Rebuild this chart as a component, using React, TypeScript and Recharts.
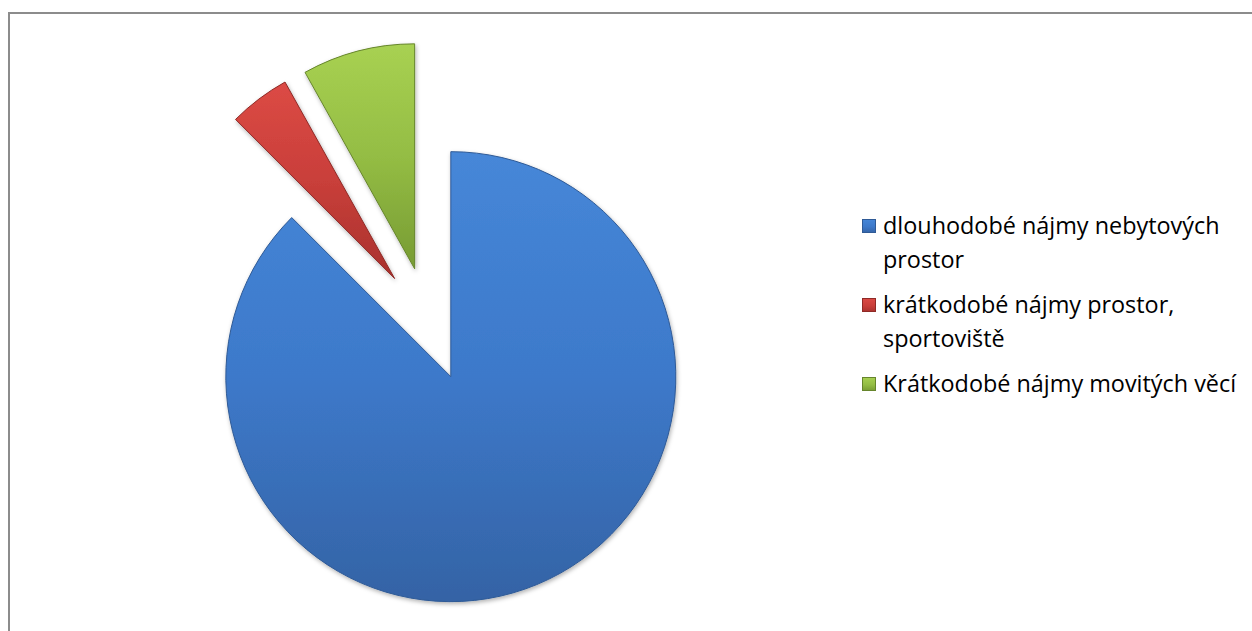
import React from 'react';
import { PieChart, Pie, Cell, Legend } from 'recharts';

// share of revenue by type of rental (%)
const categories = [
  'dlouhodobé nájmy nebytových prostor',
  'krátkodobé nájmy prostor, sportoviště',
  'Krátkodobé nájmy movitých věcí',
];
const shares = [87.5, 4.4, 8.1];

const GRADIENTS = [
  { id: 'g-blue', top: '#4687d8', mid: '#3d79ca', bottom: '#3463a5', edge: '#2f5a96' },
  { id: 'g-red', top: '#dc4a45', mid: '#c93f3a', bottom: '#a8312d', edge: '#8f2a26' },
  { id: 'g-green', top: '#a8d152', mid: '#94bd44', bottom: '#779b33', edge: '#66852c' },
];

const CX = 429;
const CY = 324;
const RADIUS = 225;
const EXPLODE = 57;

const data = categories.map((name, i) => ({ name, value: shares[i] }));
const total = shares.reduce((a, b) => a + b, 0);

// offset of each exploded slice, along its mid angle
function explodeOffset(i: number) {
  const before = shares.slice(0, i).reduce((a, b) => a + b, 0);
  const mid = 90 - (360 * (before + shares[i] / 2)) / total;
  const rad = (mid * Math.PI) / 180;
  return { dx: EXPLODE * Math.cos(rad), dy: -EXPLODE * Math.sin(rad) };
}

function LegendBox() {
  return (
    <div style={{ fontFamily: '"Open Sans", sans-serif', fontSize: 23.4, color: '#000' }}>
      {categories.map((c, i) => (
        <div
          key={c}
          style={{ display: 'flex', alignItems: 'flex-start', marginBottom: 12, lineHeight: '33.5px' }}
        >
          <span
            style={{
              flex: '0 0 auto',
              width: 14,
              height: 14,
              marginTop: 10,
              marginRight: 7,
              background: `linear-gradient(${GRADIENTS[i].top}, ${GRADIENTS[i].mid} 55%, ${GRADIENTS[i].bottom})`,
              boxShadow: `inset 0 0 0 1px ${GRADIENTS[i].edge}`,
            }}
          />
          <span style={{ width: 362 }}>{c}</span>
        </div>
      ))}
    </div>
  );
}

export default function App() {
  return (
    <div style={{ position: 'fixed', inset: 0, overflow: 'hidden', background: '#fff' }}>
      <div
        style={{
          position: 'absolute',
          left: 8,
          top: 12,
          width: 1300,
          height: 700,
          border: '2px solid #8c8c8c',
          boxSizing: 'border-box',
        }}
      />
      <div style={{ position: 'absolute', left: 0, top: 0 }}>
        <PieChart width={1252} height={631} margin={{ top: 0, right: 0, bottom: 0, left: 0 }}>
          <defs>
            {GRADIENTS.map((g) => (
              <linearGradient key={g.id} id={g.id} x1="0" y1="0" x2="0" y2="1">
                <stop offset="0%" stopColor={g.top} />
                <stop offset="50%" stopColor={g.mid} />
                <stop offset="100%" stopColor={g.bottom} />
              </linearGradient>
            ))}
            <filter id="shadow" x="-10%" y="-10%" width="120%" height="120%">
              <feDropShadow dx="1" dy="2" stdDeviation="2" floodColor="#000" floodOpacity="0.3" />
            </filter>
          </defs>
          {data.map((d, i) => {
            const { dx, dy } = explodeOffset(i);
            return (
              <Pie
                key={d.name}
                data={data}
                dataKey="value"
                nameKey="name"
                cx={CX + dx}
                cy={CY + dy}
                outerRadius={RADIUS}
                startAngle={90}
                endAngle={-270}
                isAnimationActive={false}
                legendType="none"
                style={{ filter: 'url(#shadow)' }}
              >
                {data.map((_, j) => (
                  <Cell
                    key={j}
                    fill={j === i ? `url(#${GRADIENTS[j].id})` : 'none'}
                    stroke={j === i ? GRADIENTS[j].edge : 'none'}
                    strokeWidth={1}
                  />
                ))}
              </Pie>
            );
          })}
          <Legend
            layout="vertical"
            content={() => <LegendBox />}
            wrapperStyle={{ left: 862, top: 209, width: 390 }}
          />
        </PieChart>
      </div>
    </div>
  );
}
